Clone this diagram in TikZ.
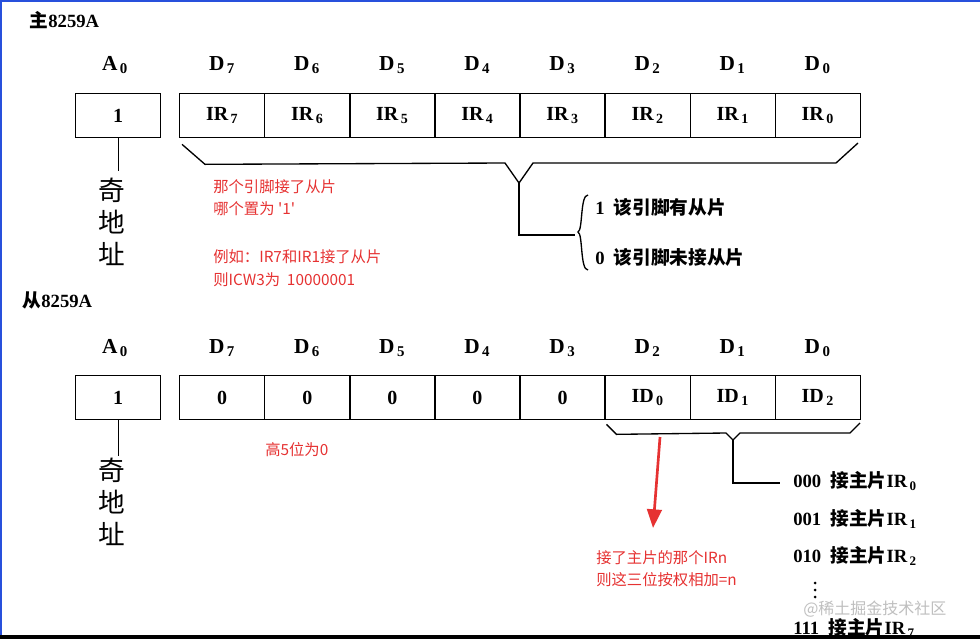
\documentclass[tikz,border=0pt]{standalone}
\usepackage{fontspec}
\setmainfont{Liberation Serif}
\newfontfamily\cjk{Noto Sans CJK SC}
\usetikzlibrary{arrows.meta}
\definecolor{redtxt}{RGB}{230,50,50}
\definecolor{bluebd}{RGB}{40,80,220}
\newlength\pxu \setlength\pxu{0.75pt}
\tikzset{
 cell/.style={draw,line width=1pt,minimum width=85\pxu,minimum height=44\pxu,inner sep=0pt,anchor=north west,font=\fontsize{15}{15}\selectfont\bfseries},
 lbl/.style={font=\fontsize{16}{16}\selectfont\bfseries},
 rtxt/.style={anchor=west,text=redtxt,font=\cjk\fontsize{11.5}{12}\selectfont,inner sep=0pt},
 btxt/.style={anchor=west,font=\fontsize{14}{14}\selectfont\bfseries,inner sep=0pt},
 big/.style={font=\cjk\fontsize{20}{20}\selectfont,inner sep=0pt},
 ln/.style={line width=1pt}
}
\newcommand\cj[1]{{\cjk\bfseries #1}}
\newcommand\subx[1]{$_{\,\mathbf{#1}}$}
\begin{document}
\begin{tikzpicture}[x=0.75pt,y=-0.75pt]
\fill[white] (0,0) rectangle (980,639);
\useasboundingbox (0,0) rectangle (980,639);
\fill[bluebd] (0,0) rectangle (980,2);
\fill[bluebd] (0,0) rectangle (2,639);
\fill[black] (0,635) rectangle (980,639);
% ---------- master
\node[anchor=west,font=\fontsize{14}{14}\selectfont\bfseries] (mt) at (25,20) {\cj{主}8259A};
\node[lbl] (ma) at (115,65) {A\subx{0}};
\node[cell] (mA) at (75,93) {1};
\foreach \i/\n in {0/7,1/6,2/5,3/4,4/3,5/2,6/1,7/0}{
  \node[cell] (m\n) at ({179+85.1*\i},93) {IR\subx{\n}};
  \node[lbl] (md\n) at ({222+85.1*\i},65) {D\subx{\n}};
}
\draw[ln] (mA.south) -- ++(0,33);
\node[big] (mq1) at (112,190) {奇};
\node[big] (mq2) at (112,222) {地};
\node[big] (mq3) at (112,254) {址};
\coordinate (bt) at (519,183);
\draw[ln] (m7.south west)++(3,6) -- ++(23,20) -- (505,163) -- (bt) -- (533,163) -- (836,163) -- ++(22,-20);
\draw[ln] (bt) -- (519,235) -- (575,235);
\draw[ln] (588,195) .. controls (580,195) and (583,230) .. (578,232) .. controls (583,234) and (580,270) .. (588,270);
\node[btxt] (o1) at (595,207) {1\ \ \cj{该引脚有从片}};
\node[btxt] (o0) at (595,257) {0\ \ \cj{该引脚未接从片}};
\node[rtxt] (r1) at (213,187) {那个引脚接了从片};
\node[rtxt] (r2) at (213,209) {哪个置为 '1'};
\node[rtxt] (r3) at (213,257) {例如：IR7和IR1接了从片};
\node[rtxt] (r4) at (213,280) {则ICW3为\ \ 10000001};
% ---------- slave
\node[anchor=west,font=\fontsize{14}{14}\selectfont\bfseries] (st) at (18,300) {\cj{从}8259A};
\node[lbl] (sa) at (115,348) {A\subx{0}};
\node[cell] (sA) at (75,375) {1};
\foreach \i/\n/\t in {0/7/0,1/6/0,2/5/0,3/4/0,4/3/0,5/2/ID\subx{0},6/1/ID\subx{1},7/0/ID\subx{2}}{
  \node[cell] (s\n) at ({179+85.1*\i},375) {\t};
  \node[lbl] (sd\n) at ({222+85.1*\i},348) {D\subx{\n}};
}
\draw[ln] (sA.south) -- ++(0,36);
\node[big] (sq1) at (112,470) {奇};
\node[big] (sq2) at (112,502) {地};
\node[big] (sq3) at (112,534) {址};
\coordinate (st2) at (733,440);
\draw[ln] (s2.south west)++(2,4) -- ++(10,10) -- (726,433) -- (st2) -- (740,433) -- (850,433) -- ++(10,-10);
\draw[ln] (st2) -- (733,483) -- (780,483);
\node[btxt] (c0) at (793,481) {000\ \ \cj{接主片}IR\subx{0}};
\node[btxt] (c1) at (793,519) {001\ \ \cj{接主片}IR\subx{1}};
\node[btxt] (c2) at (793,556) {010\ \ \cj{接主片}IR\subx{2}};
\foreach \yy in {583,590,597} \fill (815,\yy) circle (1.5);
\node[btxt] (c7) at (793,628) {111\ \ \cj{接主片}IR\subx{7}};
\node[anchor=west,text=black!25,font=\cjk\fontsize{12}{12}\selectfont,inner sep=0pt] (wm) at (803,609) {@稀土掘金技术社区};
\node[rtxt] (h5) at (265,450) {高5位为0};
\coordinate (ar1) at (660,437);
\coordinate (ar2) at (653,528);
\draw[redtxt,line width=2pt,-{Triangle[length=14pt,width=11pt]}] (ar1) -- (ar2);
\node[rtxt] (n1) at (596,558) {接了主片的那个IRn};
\node[rtxt] (n2) at (596,580) {则这三位按权相加=n};
\end{tikzpicture}
\end{document}
